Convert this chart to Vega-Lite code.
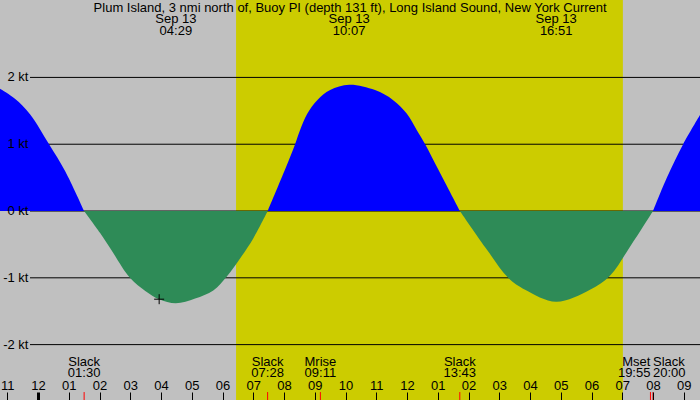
{
  "$schema": "https://vega.github.io/schema/vega-lite/v6.json",
  "width": 700,
  "height": 400,
  "padding": 0,
  "autosize": {"type": "none"},
  "background": "#c0c0c0",
  "config": {
    "view": {"stroke": null, "fill": "#c0c0c0"},
    "text": {"font": "Liberation Sans", "fontSize": 13, "color": "black"}
  },
  "datasets": {
    "current": [
      {"hour": -1.24, "kt": 1.83, "dir": "flood", "cycle": "f1"},
      {"hour": -0.75, "kt": 1.68, "dir": "flood", "cycle": "f1"},
      {"hour": -0.26, "kt": 1.45, "dir": "flood", "cycle": "f1"},
      {"hour": 0.36, "kt": 1.0, "dir": "flood", "cycle": "f1"},
      {"hour": 0.88, "kt": 0.6, "dir": "flood", "cycle": "f1"},
      {"hour": 1.5, "kt": 0, "dir": "flood", "cycle": "f1"},
      {"hour": 1.5, "kt": 0, "dir": "ebb", "cycle": "e1"},
      {"hour": 2.02, "kt": -0.33, "dir": "ebb", "cycle": "e1"},
      {"hour": 2.38, "kt": -0.58, "dir": "ebb", "cycle": "e1"},
      {"hour": 2.99, "kt": -1.0, "dir": "ebb", "cycle": "e1"},
      {"hour": 3.5, "kt": -1.2, "dir": "ebb", "cycle": "e1"},
      {"hour": 3.94, "kt": -1.32, "dir": "ebb", "cycle": "e1"},
      {"hour": 4.48, "kt": -1.38, "dir": "ebb", "cycle": "e1"},
      {"hour": 5.11, "kt": -1.31, "dir": "ebb", "cycle": "e1"},
      {"hour": 5.7, "kt": -1.19, "dir": "ebb", "cycle": "e1"},
      {"hour": 6.14, "kt": -0.98, "dir": "ebb", "cycle": "e1"},
      {"hour": 6.57, "kt": -0.71, "dir": "ebb", "cycle": "e1"},
      {"hour": 7.0, "kt": -0.41, "dir": "ebb", "cycle": "e1"},
      {"hour": 7.47, "kt": 0, "dir": "ebb", "cycle": "e1"},
      {"hour": 7.47, "kt": 0, "dir": "flood", "cycle": "f2"},
      {"hour": 8.05, "kt": 0.64, "dir": "flood", "cycle": "f2"},
      {"hour": 8.36, "kt": 1.0, "dir": "flood", "cycle": "f2"},
      {"hour": 8.52, "kt": 1.21, "dir": "flood", "cycle": "f2"},
      {"hour": 8.76, "kt": 1.46, "dir": "flood", "cycle": "f2"},
      {"hour": 9.08, "kt": 1.66, "dir": "flood", "cycle": "f2"},
      {"hour": 9.5, "kt": 1.81, "dir": "flood", "cycle": "f2"},
      {"hour": 10.12, "kt": 1.89, "dir": "flood", "cycle": "f2"},
      {"hour": 10.96, "kt": 1.81, "dir": "flood", "cycle": "f2"},
      {"hour": 11.55, "kt": 1.66, "dir": "flood", "cycle": "f2"},
      {"hour": 11.99, "kt": 1.46, "dir": "flood", "cycle": "f2"},
      {"hour": 12.32, "kt": 1.21, "dir": "flood", "cycle": "f2"},
      {"hour": 12.59, "kt": 1.0, "dir": "flood", "cycle": "f2"},
      {"hour": 13.03, "kt": 0.61, "dir": "flood", "cycle": "f2"},
      {"hour": 13.72, "kt": 0, "dir": "flood", "cycle": "f2"},
      {"hour": 13.72, "kt": 0, "dir": "ebb", "cycle": "e2"},
      {"hour": 14.6, "kt": -0.58, "dir": "ebb", "cycle": "e2"},
      {"hour": 15.29, "kt": -1.0, "dir": "ebb", "cycle": "e2"},
      {"hour": 15.84, "kt": -1.18, "dir": "ebb", "cycle": "e2"},
      {"hour": 16.85, "kt": -1.36, "dir": "ebb", "cycle": "e2"},
      {"hour": 17.95, "kt": -1.18, "dir": "ebb", "cycle": "e2"},
      {"hour": 18.6, "kt": -0.97, "dir": "ebb", "cycle": "e2"},
      {"hour": 19.19, "kt": -0.58, "dir": "ebb", "cycle": "e2"},
      {"hour": 20.0, "kt": 0, "dir": "ebb", "cycle": "e2"},
      {"hour": 20.0, "kt": 0, "dir": "flood", "cycle": "f3"},
      {"hour": 20.46, "kt": 0.51, "dir": "flood", "cycle": "f3"},
      {"hour": 20.98, "kt": 1.0, "dir": "flood", "cycle": "f3"},
      {"hour": 21.53, "kt": 1.44, "dir": "flood", "cycle": "f3"}
    ],
    "levels": [
      {"kt": 2, "label": "2 kt"},
      {"kt": 1, "label": "1 kt"},
      {"kt": 0, "label": "0 kt"},
      {"kt": -1, "label": "-1 kt"},
      {"kt": -2, "label": "-2 kt"}
    ],
    "peaks": [
      {"hour": 4.483, "date": "Sep 13", "time": "04:29"},
      {"hour": 10.117, "date": "Sep 13", "time": "10:07"},
      {"hour": 16.85, "date": "Sep 13", "time": "16:51"}
    ],
    "events": [
      {"hour": 1.5, "event": "Slack", "time": "01:30"},
      {"hour": 7.467, "event": "Slack", "time": "07:28"},
      {"hour": 9.183, "event": "Mrise", "time": "09:11"},
      {"hour": 13.717, "event": "Slack", "time": "13:43"},
      {"hour": 19.917, "event": "Mset", "time": "19:55"},
      {"hour": 20.0, "event": "Slack", "time": "20:00"}
    ],
    "sun": [{"sunrise": 6.44, "sunset": 19.02}],
    "now": [{"hour": 3.94, "kt": -1.32}]
  },
  "layer": [
    {
      "data": {"name": "sun"},
      "mark": {"type": "rect", "color": "#cccc00"},
      "encoding": {
        "x": {
          "field": "sunrise",
          "type": "quantitative",
          "scale": {"domain": [-1.236, 21.528], "nice": false, "zero": false},
          "axis": {
            "title": null,
            "orient": "bottom",
            "zindex": 1,
            "domain": false,
            "grid": false,
            "values": [-1, 0, 1, 2, 3, 4, 5, 6, 7, 8, 9, 10, 11, 12, 13, 14, 15, 16, 17, 18, 19, 20, 21],
            "tickCount": 50,
            "labelExpr": "format((((datum.value % 12) + 12) % 12) == 0 ? 12 : (((datum.value % 12) + 12) % 12), '02d')",
            "labelFlush": false,
            "labelOverlap": false,
            "labelSeparation": 0,
            "labelBound": false,
            "labelFont": "Liberation Sans",
            "labelFontSize": 13,
            "labelColor": "black",
            "labelBaseline": "middle",
            "labelPadding": -7,
            "tickSize": -8,
            "tickColor": "black",
            "tickWidth": {"condition": {"test": "datum.value == 0", "value": 3}, "value": 1}
          }
        },
        "x2": {"field": "sunset"}
      }
    },
    {
      "data": {"name": "levels"},
      "mark": {"type": "rule", "color": "black", "strokeWidth": 1},
      "encoding": {
        "x": {"datum": -0.26},
        "x2": {"datum": 21.53},
        "y": {
          "field": "kt",
          "type": "quantitative",
          "scale": {"domain": [-2.829, 3.159], "nice": false, "zero": false},
          "axis": null
        }
      }
    },
    {
      "data": {"name": "current"},
      "mark": {"type": "area", "interpolate": "catmull-rom"},
      "encoding": {
        "x": {"field": "hour", "type": "quantitative"},
        "y": {"field": "kt", "type": "quantitative", "stack": null},
        "color": {
          "field": "dir",
          "type": "nominal",
          "scale": {"domain": ["flood", "ebb"], "range": ["#0000ff", "#2e8b57"]},
          "legend": null
        },
        "detail": {"field": "cycle"}
      }
    },
    {
      "data": {"name": "levels"},
      "mark": {"type": "text", "align": "right", "baseline": "middle"},
      "encoding": {
        "x": {"datum": -0.31},
        "y": {"field": "kt", "type": "quantitative"},
        "text": {"field": "label"}
      }
    },
    {
      "data": {"values": [{"text": "Plum Island, 3 nmi north of, Buoy PI (depth 131 ft), Long Island Sound, New York Current"}]},
      "mark": {"type": "text", "align": "center", "baseline": "middle"},
      "encoding": {
        "x": {"datum": 10.15},
        "y": {"datum": 3.04},
        "text": {"field": "text"}
      }
    },
    {
      "data": {"name": "peaks"},
      "mark": {"type": "text", "align": "center", "baseline": "middle"},
      "encoding": {
        "x": {"field": "hour", "type": "quantitative"},
        "y": {"datum": 2.874},
        "text": {"field": "date"}
      }
    },
    {
      "data": {"name": "peaks"},
      "mark": {"type": "text", "align": "center", "baseline": "middle"},
      "encoding": {
        "x": {"field": "hour", "type": "quantitative"},
        "y": {"datum": 2.695},
        "text": {"field": "time"}
      }
    },
    {
      "data": {"name": "events"},
      "transform": [{"filter": "datum.hour < 19.5"}],
      "mark": {"type": "text", "align": "center", "baseline": "middle"},
      "encoding": {
        "x": {"field": "hour", "type": "quantitative"},
        "y": {"datum": -2.26},
        "text": {"field": "event"}
      }
    },
    {
      "data": {"name": "events"},
      "transform": [{"filter": "datum.hour < 19.5"}],
      "mark": {"type": "text", "align": "center", "baseline": "middle"},
      "encoding": {
        "x": {"field": "hour", "type": "quantitative"},
        "y": {"datum": -2.425},
        "text": {"field": "time"}
      }
    },
    {
      "data": {"name": "events"},
      "transform": [{"filter": "datum.event == 'Mset'"}],
      "mark": {"type": "text", "align": "right", "baseline": "middle"},
      "encoding": {
        "x": {"field": "hour", "type": "quantitative"},
        "y": {"datum": -2.26},
        "text": {"field": "event"}
      }
    },
    {
      "data": {"name": "events"},
      "transform": [{"filter": "datum.event == 'Mset'"}],
      "mark": {"type": "text", "align": "right", "baseline": "middle"},
      "encoding": {
        "x": {"field": "hour", "type": "quantitative"},
        "y": {"datum": -2.425},
        "text": {"field": "time"}
      }
    },
    {
      "data": {"name": "events"},
      "transform": [{"filter": "datum.hour > 19.95"}],
      "mark": {"type": "text", "align": "left", "baseline": "middle"},
      "encoding": {
        "x": {"field": "hour", "type": "quantitative"},
        "y": {"datum": -2.26},
        "text": {"field": "event"}
      }
    },
    {
      "data": {"name": "events"},
      "transform": [{"filter": "datum.hour > 19.95"}],
      "mark": {"type": "text", "align": "left", "baseline": "middle"},
      "encoding": {
        "x": {"field": "hour", "type": "quantitative"},
        "y": {"datum": -2.425},
        "text": {"field": "time"}
      }
    },
    {
      "data": {"name": "events"},
      "mark": {"type": "rule", "color": "#ff0000", "strokeWidth": 1},
      "encoding": {
        "x": {"field": "hour", "type": "quantitative"},
        "y": {"datum": -2.71},
        "y2": {"datum": -2.829}
      }
    },
    {
      "data": {"name": "now"},
      "mark": {"type": "point", "shape": "M-1,0H1M0,-1V1", "size": 100, "filled": false, "stroke": "black", "strokeWidth": 1, "opacity": 1},
      "encoding": {
        "x": {"field": "hour", "type": "quantitative"},
        "y": {"field": "kt", "type": "quantitative"}
      }
    }
  ]
}
